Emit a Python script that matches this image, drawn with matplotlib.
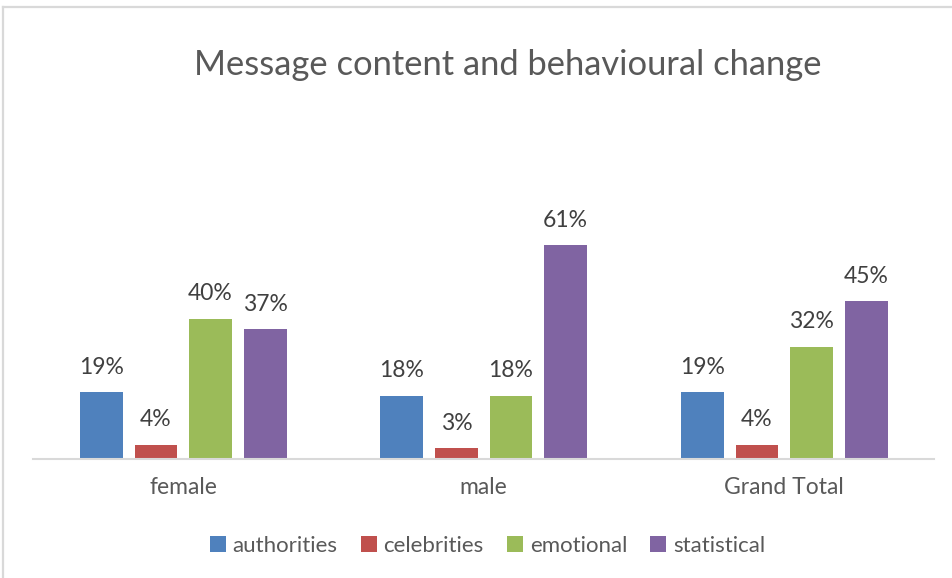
import numpy as np
import matplotlib
matplotlib.use('Agg')
import matplotlib.pyplot as plt
from matplotlib.lines import Line2D

plt.rcParams['font.family'] = ['Lato', 'DejaVu Sans']

groups = ['female', 'male', 'Grand Total']
series = ['authorities', 'celebrities', 'emotional', 'statistical']
colors = ['#4f81bd', '#c0504d', '#9bbb59', '#8064a2']
authorities = [0.19, 0.18, 0.19]
celebrities = [0.04, 0.03, 0.04]
emotional = [0.40, 0.18, 0.32]
statistical = [0.37, 0.61, 0.45]
values = [authorities, celebrities, emotional, statistical]

W, H = 953, 578
fig = plt.figure(figsize=(W / 100, H / 100), dpi=100)
ax = fig.add_axes([33 / W, 1 - 459 / H, 901.5 / W, 245.4 / H])

x = np.arange(len(groups))
step = 0.1814
width = 0.143
for i, (name, vals, c) in enumerate(zip(series, values, colors)):
    pos = x + (i - 1.5) * step
    bars = ax.bar(pos, vals, width, color=c, label=name, zorder=2)
    for b, v in zip(bars, vals):
        ax.annotate(f'{v:.0%}', (b.get_x() + b.get_width() / 2, v),
                    xytext=(0, 18), textcoords='offset points',
                    ha='center', va='center', fontsize=16.5, color='#404040')

ax.set_xlim(-0.5, 2.5)
ax.set_ylim(0, 0.7)
ax.set_yticks([])
ax.set_xticks(x)
ax.set_xticklabels(groups, fontsize=16.5, color='#595959')
ax.tick_params(axis='x', length=0, pad=13)
for s in ['top', 'right', 'left']:
    ax.spines[s].set_visible(False)
ax.spines['bottom'].set_color('#d9d9d9')
ax.spines['bottom'].set_linewidth(1.5)

fig.text(508 / W, 1 - 65 / H, 'Message content and behavioural change',
         ha='center', va='center', fontsize=24.8, color='#595959')

fig.legend(loc='center', bbox_to_anchor=(487.5 / W, 1 - 546 / H), ncol=4,
           frameon=False, fontsize=16, labelcolor='#595959',
           handlelength=0.72, handleheight=0.72, handletextpad=0.3,
           columnspacing=1.05)

# chart border (only top and left edges fall inside the canvas)
fig.add_artist(Line2D([3.5 / W, 3.5 / W], [0, 1 - 6.5 / H],
                      transform=fig.transFigure, color='#d9d9d9', lw=1.6))
fig.add_artist(Line2D([3.5 / W, 1], [1 - 6.5 / H, 1 - 6.5 / H],
                      transform=fig.transFigure, color='#d9d9d9', lw=1.6))

fig.savefig('out.png', dpi=100, facecolor='white')
